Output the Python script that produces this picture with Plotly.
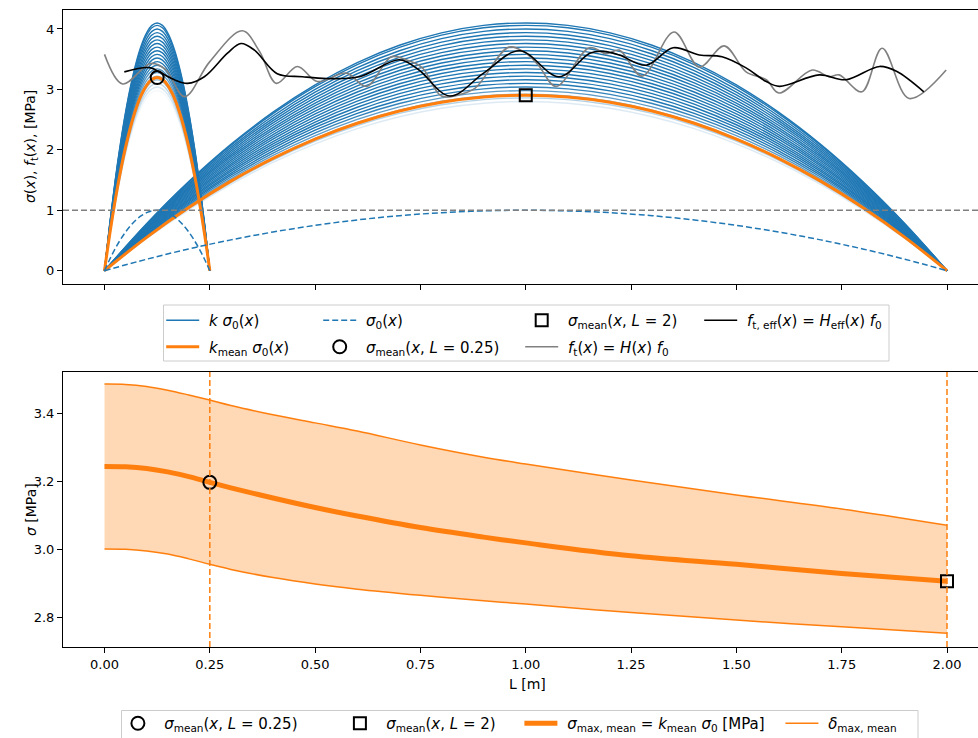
import plotly.graph_objects as go

# ---------------- data ----------------
L_short = 0.25
L_long = 2.0
sigma0_level = 1.0          # dashed reference level in the upper panel

# normalised sigma_0 profile along the beam (position / L, value)
xi = [0.0, 0.05, 0.10, 0.15, 0.20, 0.25, 0.30, 0.35, 0.40, 0.45, 0.50,
      0.55, 0.60, 0.65, 0.70, 0.75, 0.80, 0.85, 0.90, 0.95, 1.0]
profile = [0.0, 0.19, 0.36, 0.51, 0.64, 0.75, 0.84, 0.91, 0.96, 0.99, 1.0,
           0.99, 0.96, 0.91, 0.84, 0.75, 0.64, 0.51, 0.36, 0.19, 0.0]

# k factors of the family of curves
k_levels = [2.62, 2.68, 2.74, 2.80, 2.86, 2.92, 2.98, 3.04, 3.10, 3.16, 3.22,
            3.28, 3.34, 3.40, 3.46, 3.52, 3.58, 3.64, 3.70, 3.76, 3.82, 3.88,
            3.94, 4.00, 4.06, 4.10]

# f_t(x) = H(x) f0  (grey)
ft_x = [0.0, 0.043, 0.11, 0.145, 0.19, 0.25, 0.327, 0.368, 0.408, 0.458, 0.505,
        0.574, 0.622, 0.681, 0.716, 0.754, 0.80, 0.845, 0.88, 0.96, 1.0, 1.03,
        1.072, 1.151, 1.191, 1.222, 1.276, 1.352, 1.412, 1.471, 1.523, 1.571,
        1.601, 1.68, 1.72, 1.744, 1.798, 1.846, 1.91, 1.998]
ft_y = [3.58, 3.09, 3.43, 3.33, 2.88, 3.46, 3.97, 3.63, 3.10, 3.38, 3.13,
        3.27, 3.05, 3.54, 3.49, 3.36, 2.89, 2.92, 3.02, 3.70, 3.60, 3.40,
        3.05, 3.69, 3.59, 3.65, 3.22, 3.95, 3.37, 3.72, 3.29, 3.16,
        2.94, 3.32, 3.21, 3.24, 2.96, 3.68, 2.85, 3.32]

# f_t,eff(x) = H_eff(x) f0  (black)
fteff_x = [0.047, 0.107, 0.135, 0.166, 0.197, 0.237, 0.292, 0.324, 0.356, 0.41,
           0.47, 0.527, 0.605, 0.70, 0.745, 0.82, 0.90, 0.985, 1.079, 1.152,
           1.185, 1.222, 1.286, 1.35, 1.412, 1.466, 1.522, 1.571, 1.602, 1.697,
           1.76, 1.84, 1.88, 1.945]
fteff_y = [3.29, 3.36, 3.27, 3.16, 3.10, 3.21, 3.60, 3.76, 3.65, 3.26,
           3.21, 3.18, 3.21, 3.49, 3.33, 2.89, 3.27, 3.64, 3.21, 3.60,
           3.63, 3.57, 3.40, 3.69, 3.57, 3.54, 3.36, 3.13, 3.05, 3.24,
           3.16, 3.38, 3.30, 2.96]

# lower panel: sigma_max,mean and its band vs. L
L_vals = [0.0, 0.05, 0.10, 0.15, 0.20, 0.25, 0.30, 0.40, 0.50, 0.60, 0.75,
          0.90, 1.00, 1.25, 1.50, 1.75, 2.00]
sig_mean = [3.243, 3.242, 3.237, 3.227, 3.213, 3.196, 3.180, 3.150, 3.122,
            3.097, 3.063, 3.035, 3.018, 2.980, 2.955, 2.928, 2.905]
band_upper = [3.485, 3.484, 3.478, 3.467, 3.453, 3.438, 3.422, 3.395, 3.371,
              3.347, 3.306, 3.270, 3.250, 3.203, 3.159, 3.118, 3.070]
band_lower = [3.000, 2.999, 2.994, 2.985, 2.971, 2.955, 2.940, 2.916, 2.897,
              2.882, 2.864, 2.848, 2.838, 2.813, 2.791, 2.771, 2.752]

# ---------------- layout helpers ----------------
FIG_W, FIG_H = 978, 738
M_L, M_R, M_T, M_B = 63, 0, 10, 91
PW = FIG_W - M_L - M_R
PH = FIG_H - M_T - M_B


def px_x(px):
    return (px - M_L) / PW


def px_y(py):
    return (FIG_H - M_B - py) / PH


BLUE = "#1f77b4"
ORANGE = "#ff7f0e"
GREY = "#808080"
FONT = "DejaVu Sans"
NB = "\u00a0"
LEG_SIZE = 15

i_short = L_vals.index(L_short)
i_long = L_vals.index(L_long)

fig = go.Figure()

# ---- upper panel: family of k*sigma0 curves ----
families = [(L_short, band_lower[i_short], band_upper[i_short]),
            (L_long, band_lower[i_long], band_upper[i_long])]
for fi, (L, lo, hi) in enumerate(families):
    xs = [v * L for v in xi]
    for k in k_levels:
        a = max(0.0, min(1.0, (k - lo) / (hi - lo)))
        legend_item = (fi == 0 and k == k_levels[-1])
        fig.add_trace(go.Scatter(
            x=xs, y=[k * p for p in profile], mode="lines",
            line=dict(color=f"rgba(31,119,180,{a:.3f})", width=1.4, shape="spline"),
            name=NB + "<i>k σ</i><sub>0</sub>(<i>x</i>)",
            showlegend=legend_item, legend="legend", legendrank=1, legendwidth=109,
            xaxis="x", yaxis="y", hoverinfo="skip"))

# k_mean * sigma0
for fi, (L, idx) in enumerate([(L_short, i_short), (L_long, i_long)]):
    fig.add_trace(go.Scatter(
        x=[v * L for v in xi], y=[sig_mean[idx] * p for p in profile], mode="lines",
        line=dict(color=ORANGE, width=3, shape="spline"),
        name=NB + "<i>k</i><sub>mean</sub> <i>σ</i><sub>0</sub>(<i>x</i>)",
        showlegend=(fi == 0), legend="legend2", legendrank=1, legendwidth=109,
        xaxis="x", yaxis="y"))

# sigma0 (dashed)
for fi, L in enumerate([L_short, L_long]):
    fig.add_trace(go.Scatter(
        x=[v * L for v in xi], y=[sigma0_level * p for p in profile], mode="lines",
        line=dict(color=BLUE, width=1.5, dash="6px,3px", shape="spline"),
        name=NB + "<i>σ</i><sub>0</sub>(<i>x</i>)",
        showlegend=(fi == 0), legend="legend", legendrank=2, legendwidth=154,
        xaxis="x", yaxis="y"))

# f_t(x)
fig.add_trace(go.Scatter(
    x=ft_x, y=ft_y, mode="lines",
    line=dict(color=GREY, width=1.6, shape="spline", smoothing=1.0),
    name=NB + "<i>f</i><sub>t</sub>(<i>x</i>) = <i>H</i>(<i>x</i>) <i>f</i><sub>0</sub>",
    legend="legend2", legendrank=3, xaxis="x", yaxis="y"))

# f_t,eff(x)
fig.add_trace(go.Scatter(
    x=fteff_x, y=fteff_y, mode="lines",
    line=dict(color="black", width=1.6, shape="spline", smoothing=1.0),
    name=NB + "<i>f</i><sub>t, eff</sub>(<i>x</i>) = <i>H</i><sub>eff</sub>(<i>x</i>) <i>f</i><sub>0</sub>",
    legend="legend", legendrank=4, xaxis="x", yaxis="y"))

# markers in upper panel
fig.add_trace(go.Scatter(
    x=[L_short / 2], y=[sig_mean[i_short]], mode="markers",
    marker=dict(symbol="circle-open", size=13, color="black", line=dict(width=2)),
    name=NB + "<i>σ</i><sub>mean</sub>(<i>x</i>, <i>L</i> = 0.25)",
    legend="legend2", legendrank=2, legendwidth=154, xaxis="x", yaxis="y"))
fig.add_trace(go.Scatter(
    x=[L_long / 2], y=[sig_mean[i_long]], mode="markers",
    marker=dict(symbol="square-open", size=12, color="black", line=dict(width=2)),
    name=NB + "<i>σ</i><sub>mean</sub>(<i>x</i>, <i>L</i> = 2)",
    legend="legend", legendrank=3, legendwidth=131, xaxis="x", yaxis="y"))

# ---- lower panel ----
fig.add_trace(go.Scatter(
    x=L_vals, y=band_lower, mode="lines", line=dict(width=0, shape="spline"),
    showlegend=False, xaxis="x2", yaxis="y2", hoverinfo="skip"))
fig.add_trace(go.Scatter(
    x=L_vals, y=band_upper, mode="lines", line=dict(width=0, shape="spline"),
    fill="tonexty", fillcolor="rgba(255,127,14,0.3)",
    showlegend=False, xaxis="x2", yaxis="y2", hoverinfo="skip"))
fig.add_trace(go.Scatter(
    x=L_vals, y=band_upper, mode="lines",
    line=dict(color=ORANGE, width=1.5, shape="spline"),
    name=NB + "<i>δ</i><sub>max, mean</sub>", legendgroup="band",
    legend="legend3", legendrank=4, xaxis="x2", yaxis="y2"))
fig.add_trace(go.Scatter(
    x=L_vals, y=band_lower, mode="lines",
    line=dict(color=ORANGE, width=1.5, shape="spline"),
    showlegend=False, legendgroup="band", xaxis="x2", yaxis="y2"))
fig.add_trace(go.Scatter(
    x=L_vals, y=sig_mean, mode="lines",
    line=dict(color=ORANGE, width=5, shape="spline"),
    name=NB + "<i>σ</i><sub>max, mean</sub> = <i>k</i><sub>mean</sub> <i>σ</i><sub>0</sub> [MPa]",
    legend="legend3", legendrank=3, legendwidth=213, xaxis="x2", yaxis="y2"))
fig.add_trace(go.Scatter(
    x=[L_vals[i_short]], y=[sig_mean[i_short]], mode="markers",
    marker=dict(symbol="circle-open", size=13, color="black", line=dict(width=2)),
    name=NB + "<i>σ</i><sub>mean</sub>(<i>x</i>, <i>L</i> = 0.25)",
    legend="legend3", legendrank=1, legendwidth=174, xaxis="x2", yaxis="y2"))
fig.add_trace(go.Scatter(
    x=[L_vals[i_long]], y=[sig_mean[i_long]], mode="markers",
    marker=dict(symbol="square-open", size=12, color="black", line=dict(width=2)),
    name=NB + "<i>σ</i><sub>mean</sub>(<i>x</i>, <i>L</i> = 2)",
    legend="legend3", legendrank=2, legendwidth=133, xaxis="x2", yaxis="y2"))

# ---------------- axes ----------------
x_px0, x_px2 = 104.5, 947.0           # pixel of x=0 and x=2
ppu = (x_px2 - x_px0) / 2.0
x_range = [(M_L - x_px0) / ppu, (FIG_W - M_R - x_px0) / ppu]
xticks = [0.0, 0.25, 0.5, 0.75, 1.0, 1.25, 1.5, 1.75, 2.0]

axis_common = dict(showgrid=False, zeroline=False, showline=True, linecolor="black",
                   linewidth=1, ticks="outside", ticklen=5, tickwidth=1,
                   tickcolor="black", tickfont=dict(family=FONT, size=13, color="black"))

top_dom = [px_y(284), 1.0]
bot_dom = [0.0, px_y(372)]

fig.update_layout(
    xaxis=dict(domain=[0, 1], range=x_range, anchor="y", tickvals=xticks,
               showticklabels=False, mirror=True, **axis_common),
    yaxis=dict(domain=top_dom, range=[-0.22, 4.314], anchor="x",
               tickvals=[0, 1, 2, 3, 4], **axis_common),
    xaxis2=dict(domain=[0, 1], range=x_range, anchor="y2", tickvals=xticks,
                tickformat=".2f", mirror=True, **axis_common),
    yaxis2=dict(domain=bot_dom, range=[2.7118, 3.5206], anchor="x2",
                tickvals=[2.8, 3.0, 3.2, 3.4], tickformat=".1f", **axis_common),
)

# reference lines
fig.add_shape(type="line", xref="x domain", x0=0, x1=1, yref="y",
              y0=sigma0_level, y1=sigma0_level,
              line=dict(color=GREY, width=1.5, dash="6px,3px"))
for Lv in (L_short, L_long):
    fig.add_shape(type="line", xref="x2", x0=Lv, x1=Lv, yref="y2 domain", y0=0, y1=1,
                  line=dict(color=ORANGE, width=1.5, dash="6px,3px"))

# legend frames
fig.add_shape(type="rect", xref="paper", yref="paper",
              x0=px_x(163.5), x1=px_x(889), y0=px_y(361), y1=px_y(305),
              line=dict(color="#cccccc", width=1), fillcolor="rgba(255,255,255,0.8)",
              layer="below")
fig.add_shape(type="rect", xref="paper", yref="paper",
              x0=px_x(121.5), x1=px_x(918), y0=px_y(760), y1=px_y(710.5),
              line=dict(color="#cccccc", width=1), fillcolor="rgba(255,255,255,0.8)",
              layer="below")

leg_common = dict(orientation="h", xanchor="left", yanchor="top",
                  bgcolor="rgba(0,0,0,0)", borderwidth=0, itemwidth=33,
                  traceorder="normal",
                  font=dict(family=FONT, size=LEG_SIZE, color="black"))

fig.update_layout(
    legend=dict(x=px_x(161.2), y=px_y(304), **leg_common),
    legend2=dict(x=px_x(161.2), y=px_y(330.5), **leg_common),
    legend3=dict(x=px_x(116.4), y=px_y(707), **leg_common),
)

# axis titles as annotations
fig.add_annotation(text="<i>σ</i>(<i>x</i>), <i>f</i><sub>t</sub>(<i>x</i>), [MPa]",
                   xref="paper", yref="paper", x=px_x(31), y=px_y(147),
                   textangle=-90, showarrow=False, xanchor="center", yanchor="middle",
                   font=dict(family=FONT, size=14, color="black"))
fig.add_annotation(text="<i>σ</i> [MPa]",
                   xref="paper", yref="paper", x=px_x(31), y=px_y(510),
                   textangle=-90, showarrow=False, xanchor="center", yanchor="middle",
                   font=dict(family=FONT, size=14, color="black"))
fig.add_annotation(text="L [m]", xref="paper", yref="paper",
                   x=px_x(527), y=px_y(684), showarrow=False,
                   xanchor="center", yanchor="middle",
                   font=dict(family=FONT, size=14, color="black"))

fig.update_layout(
    width=FIG_W, height=FIG_H,
    margin=dict(l=M_L, r=M_R, t=M_T, b=M_B, autoexpand=False),
    paper_bgcolor="white", plot_bgcolor="white",
    font=dict(family=FONT, size=13, color="black"),
    showlegend=True,
)

fig.write_html("out.html")
